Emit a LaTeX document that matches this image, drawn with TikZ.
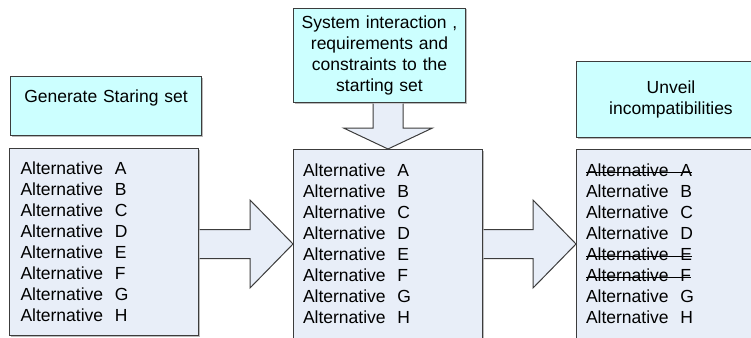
\documentclass[tikz,border=0pt]{standalone}
\usepackage{fontspec}
\setmainfont{Liberation Sans}
\usetikzlibrary{calc,shadows}

\definecolor{headfill}{RGB}{204,255,255}
\definecolor{setfill}{RGB}{232,238,248}
\definecolor{edgegray}{RGB}{60,60,60}

% struck-out alternative
\newsavebox{\droppedbox}
\newcommand{\dropped}[1]{\leavevmode\sbox{\droppedbox}{Alternative\ \ #1}%
    \rlap{\rule[0.24em]{\wd\droppedbox}{1pt}}\usebox{\droppedbox}}

\begin{document}
\begin{tikzpicture}[x=1pt, y=-1pt,
    txt/.style={font=\fontsize{17.5pt}{21pt}\selectfont},
    headbox/.style={txt, draw=edgegray, line width=1pt, fill=headfill, align=center, inner xsep=5pt,
        anchor=north west, drop shadow={shadow xshift=1pt, shadow yshift=-1pt, fill=black!45, opacity=.6}},
    setbox/.style={txt, draw=edgegray, line width=1pt, fill=setfill, align=left, inner xsep=9.5pt,
        text width=170pt, minimum height=189pt, anchor=north west,
        drop shadow={shadow xshift=1pt, shadow yshift=-1pt, fill=black!45, opacity=.6}},
    blockarrow/.style={draw=edgegray, line width=1pt, fill=setfill, line join=miter}]

    \useasboundingbox (0,0) rectangle (751,337);
    \clip (0,0) rectangle (751,337);

    % Headings
    \node[headbox, text width=181pt, minimum height=59pt, inner ysep=0pt,
        text height=25.5pt, text depth=33.5pt] (gen) at (10,76) {Generate Staring set};
    \node[headbox, text width=162pt, minimum height=94pt] (cons) at (293,8)
        {System interaction ,\\ requirements and\\ constraints to the\\ starting set};
    \node[headbox, text width=179pt, minimum height=76pt] (unveil) at (576,61)
        {Unveil\\ incompatibilities};

    % Sets of alternatives
    \node[setbox, minimum height=187pt, inner xsep=11pt, text width=167pt] (start) at (9,148) {%
        Alternative\ \ A\\ Alternative\ \ B\\ Alternative\ \ C\\ Alternative\ \ D\\
        Alternative\ \ E\\ Alternative\ \ F\\ Alternative\ \ G\\ Alternative\ \ H};
    \node[setbox] (mid) at (293,149) {%
        Alternative\ \ A\\ Alternative\ \ B\\ Alternative\ \ C\\ Alternative\ \ D\\
        Alternative\ \ E\\ Alternative\ \ F\\ Alternative\ \ G\\ Alternative\ \ H};
    \node[setbox] (final) at (576,149) {%
        \dropped{A}\\ Alternative\ \ B\\ Alternative\ \ C\\ Alternative\ \ D\\
        \dropped{E}\\ \dropped{F}\\ Alternative\ \ G\\ Alternative\ \ H};

    % Block arrow: starting set -> constrained set
    \coordinate (a1) at (start.east |- mid.west);
    \filldraw[blockarrow] ($(a1)+(0.5,-14.5)$) -- ($(mid.west)+(-43,-14.5)$) -- ($(mid.west)+(-43,-44)$)
        -- (mid.west) -- ($(mid.west)+(-43,44)$) -- ($(mid.west)+(-43,14.5)$) -- ($(a1)+(0.5,14.5)$);

    % Block arrow: constrained set -> unveiled set
    \filldraw[blockarrow] ($(mid.east)+(0.5,-14.5)$) -- ($(final.west)+(-43,-14.5)$) -- ($(final.west)+(-43,-44)$)
        -- (final.west) -- ($(final.west)+(-43,44)$) -- ($(final.west)+(-43,14.5)$) -- ($(mid.east)+(0.5,14.5)$);

    % Block arrow: constraints down into the set
    \coordinate (a2) at (cons.south -| mid.north);
    \filldraw[blockarrow] ($(a2)+(-15,0.5)$) -- ($(mid.north)+(-15,-21)$) -- ($(mid.north)+(-44.5,-21)$)
        -- (mid.north) -- ($(mid.north)+(44.5,-21)$) -- ($(mid.north)+(15,-21)$) -- ($(a2)+(15,0.5)$);
\end{tikzpicture}
\end{document}
